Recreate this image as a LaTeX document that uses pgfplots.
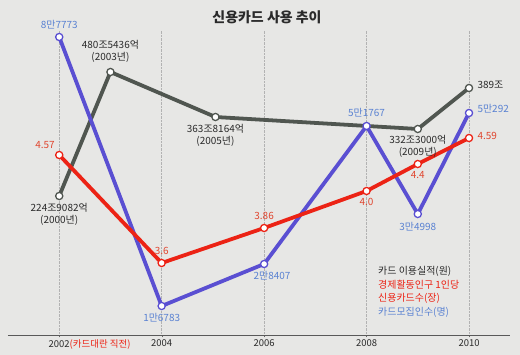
\documentclass[border=0pt]{standalone}
\usepackage{pgfplots}
\pgfplotsset{compat=1.18}
\usepackage{fontspec}
\setmainfont{Noto Sans CJK KR}
\definecolor{bgcol}{HTML}{E7E7E5}
\definecolor{grayline}{HTML}{505650}
\definecolor{blueline}{HTML}{5A4FD2}
\definecolor{bluelab}{HTML}{5A82D2}
\definecolor{redline}{HTML}{EC2315}
\definecolor{redlab}{HTML}{E0452E}
\definecolor{txt}{HTML}{2A2A2A}
\begin{document}
\begin{tikzpicture}
\useasboundingbox (0,0) rectangle (520bp,355bp);
\fill[bgcol] (0,0) rectangle (520bp,355bp);
\node[font=\fontsize{14}{16}\selectfont\bfseries, text=txt] at (267bp,338bp) {신용카드 사용 추이};
\begin{axis}[
  at={(8bp,20bp)}, anchor=south west, scale only axis,
  width=502bp, height=305bp,
  xmin=2001, xmax=2010.8, ymin=20, ymax=325,
  axis x line=bottom, axis y line=none,
  axis line style={-, black!65, line width=0.6pt},
  xtick={2002,2004,2006,2008,2010},
  xticklabels={2002\rlap{\textcolor{redline}{(카드대란 직전)}},2004,2006,2008,2010},
  xticklabel style={font=\fontsize{9.5}{11}\selectfont, text=txt, yshift=1.5bp},
  xmajorgrids, grid style={densely dotted, black!30, line width=0.5pt},
  tick align=outside, major tick length=2.5pt, tick style={black!60},
  clip=false,
  every axis plot/.append style={line width=3.8pt, mark=*, mark size=3.6pt},
  nodes/.append style={font=\fontsize{8.3}{9.8}\selectfont, inner sep=1pt},
]
\addplot[color=grayline, mark options={fill=white, draw=grayline, line width=1.3pt}] coordinates {
  (2002,159) (2003,283) (2005.05,238) (2009,226) (2010,267)};
\addplot[color=blueline, mark options={fill=white, draw=blueline, line width=1.3pt}] coordinates {
  (2002,318) (2004,49) (2006,91) (2008,229) (2009,141) (2010,242)};
\addplot[color=redline, mark options={fill=white, draw=redline, line width=1.3pt}] coordinates {
  (2002,200) (2004,92) (2006,127) (2008,164) (2009,191) (2010,217)};
% gray labels
\node[below=4bp, align=center, text=txt] at (axis cs:2002,159) {224조9082억\\(2000년)};
\node[above=6bp, align=center, text=txt] at (axis cs:2003,283) {480조5436억\\(2003년)};
\node[below=4bp, align=center, text=txt] at (axis cs:2005.05,238) {363조8164억\\(2005년)};
\node[below=3bp, align=center, text=txt] at (axis cs:2009,226) {332조3000억\\(2009년)};
\node[right=5bp, yshift=3bp, text=txt] at (axis cs:2010,267) {389조};
% blue labels
\node[above=4bp, text=bluelab] at (axis cs:2002,318) {8만7773};
\node[below=4bp, text=bluelab] at (axis cs:2004,49) {1만6783};
\node[below=4bp, xshift=8bp, text=bluelab] at (axis cs:2006,91) {2만8407};
\node[above=5bp, text=bluelab] at (axis cs:2008,229) {5만1767};
\node[below=5bp, text=bluelab] at (axis cs:2009,141) {3만4998};
\node[right=5bp, yshift=4bp, text=bluelab] at (axis cs:2010,242) {5만292};
% red labels
\node[anchor=south east, xshift=-1bp, yshift=3bp, text=redlab] at (axis cs:2002,200) {4.57};
\node[above=5bp, text=redlab] at (axis cs:2004,92) {3.6};
\node[above=5bp, text=redlab] at (axis cs:2006,127) {3.86};
\node[below=4bp, text=redlab] at (axis cs:2008,164) {4.0};
\node[below=4bp, text=redlab] at (axis cs:2009,191) {4.4};
\node[right=5bp, yshift=2bp, text=redlab] at (axis cs:2010,217) {4.59};
\end{axis}
\begin{scope}[every node/.style={anchor=west, font=\fontsize{10}{12}\selectfont, inner sep=0pt}]
\node[text=txt] at (378bp,84bp) {카드 이용실적(원)};
\node[text=redline] at (378bp,70bp) {경제활동인구 1인당};
\node[text=redline] at (378bp,57bp) {신용카드수(장)};
\node[text=bluelab] at (378bp,43bp) {카드모집인수(명)};
\end{scope}
\end{tikzpicture}
\end{document}
